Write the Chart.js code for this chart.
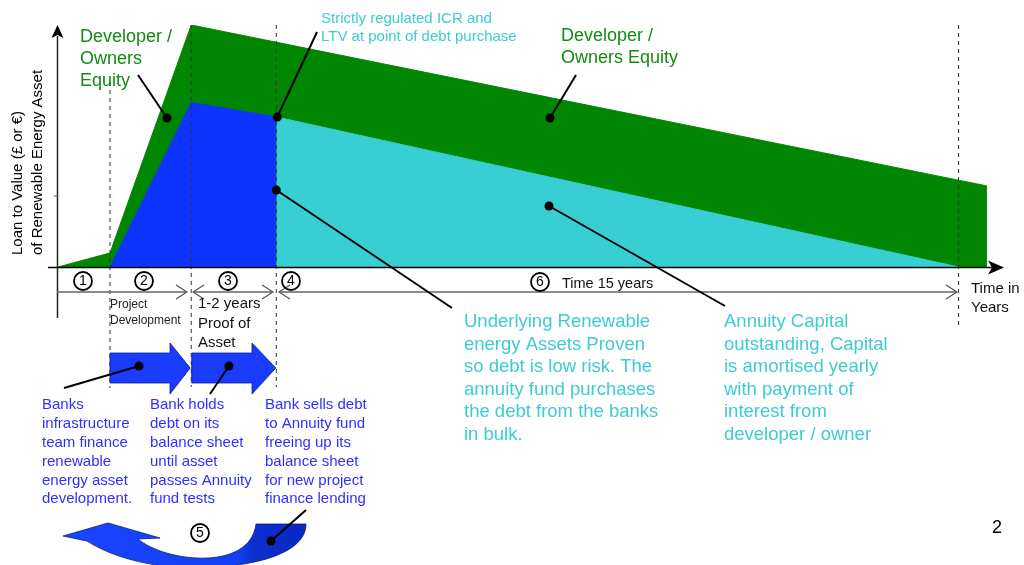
<!DOCTYPE html>
<html><head><meta charset="utf-8">
<script src="https://cdn.jsdelivr.net/npm/chart.js@4.4.1/dist/chart.umd.min.js"></script>
<style>html,body{margin:0;padding:0;background:#fff;overflow:hidden}#wrap{width:1024px;height:565px;position:relative}</style>
</head><body><div id="wrap"><canvas id="c"></canvas></div>
<script>
// ---- data (x: position along the time axis, 0..100; y: loan to value, 0..100) ----
const equityX   = [0, 5.5, 14.1, 98.3];
const equityY   = [0, 5.8, 100, 33.5];
const bankDebtX = [5.5, 14.1, 23.1];
const bankDebtY = [0, 68, 62];
const annuityX  = [23.1, 95.3];
const annuityY  = [62, 0];
const phaseNumbers = ['1', '2', '3', '4', '5', '6'];

const pts = (xs, ys) => xs.map((x, i) => ({x: x, y: ys[i]}));

const GREEN = '#008600', BLUE = '#1034ff', CYAN = '#37cfd4';
const TXT_GREEN = '#138a13', TXT_CYAN = '#3ecbd2', TXT_BLUE = '#2f2fff';
const FONT = '"Liberation Sans", Arial, sans-serif';

function txt(ctx, s, x, capY, size, color, align) {
  ctx.font = size + 'px ' + FONT;
  ctx.fillStyle = color;
  ctx.textAlign = align || 'left';
  ctx.textBaseline = 'alphabetic';
  ctx.fillText(s, x, capY + 0.36 * size);
}
function lines(ctx, arr, x, y0, step, size, color) {
  arr.forEach((s, i) => txt(ctx, s, x, y0 + i * step, size, color));
}
function seg(ctx, x1, y1, x2, y2, w, c, dash) {
  ctx.save();
  ctx.beginPath(); ctx.lineWidth = w; ctx.strokeStyle = c;
  ctx.setLineDash(dash || []);
  ctx.moveTo(x1, y1); ctx.lineTo(x2, y2); ctx.stroke();
  ctx.restore();
}
function dot(ctx, x, y) {
  ctx.beginPath(); ctx.fillStyle = '#000'; ctx.arc(x, y, 4.5, 0, Math.PI * 2); ctx.fill();
}
function pointer(ctx, x1, y1, x2, y2) { seg(ctx, x1, y1, x2, y2, 2, '#000'); dot(ctx, x2, y2); }
function circled(ctx, n, x, y) {
  ctx.beginPath(); ctx.lineWidth = 1.8; ctx.strokeStyle = '#000';
  ctx.arc(x, y, 9, 0, Math.PI * 2); ctx.stroke();
  ctx.font = '14px ' + FONT; ctx.fillStyle = '#000';
  ctx.textAlign = 'center'; ctx.textBaseline = 'middle';
  ctx.fillText(n, x, y + 0.5);
}
function chevron(ctx, x, y, dir) {
  ctx.beginPath(); ctx.lineWidth = 1.2; ctx.strokeStyle = '#555';
  ctx.moveTo(x - dir * 11, y - 7); ctx.lineTo(x, y); ctx.lineTo(x - dir * 11, y + 7); ctx.stroke();
}
function blockArrow(ctx, x0, x1, x2) {
  ctx.beginPath();
  ctx.moveTo(x0, 353); ctx.lineTo(x1, 353); ctx.lineTo(x1, 343); ctx.lineTo(x2, 368);
  ctx.lineTo(x1, 394); ctx.lineTo(x1, 383); ctx.lineTo(x0, 383); ctx.closePath();
  ctx.fillStyle = '#1a3cff'; ctx.fill();
  ctx.lineWidth = 0.8; ctx.strokeStyle = '#0a1a90'; ctx.stroke();
}

const annotations = {
  id: 'annotations',
  afterDatasetsDraw(chart) {
    const ctx = chart.ctx, xs = chart.scales.x, ys = chart.scales.y;
    const X = v => xs.getPixelForValue(v), Y = v => ys.getPixelForValue(v);
    const base = Y(0);
    ctx.save();

    // dashed phase separators
    const dash = [4, 4];
    seg(ctx, X(bankDebtX[0]), 82, X(bankDebtX[0]), 388, 1, '#333', dash);
    seg(ctx, X(bankDebtX[1]), 25, X(bankDebtX[1]), 387, 1, '#333', dash);
    seg(ctx, X(bankDebtX[2]), 25, X(bankDebtX[2]), 387, 1, '#333', dash);
    seg(ctx, X(annuityX[1]), 25, X(annuityX[1]), 326, 1, '#333', dash);

    // axes
    seg(ctx, 57.5, 318, 57.5, 36, 1.5, '#222');
    ctx.beginPath(); ctx.fillStyle = '#000';
    ctx.moveTo(57.5, 25); ctx.lineTo(63.5, 38); ctx.lineTo(57.5, 35); ctx.lineTo(51.5, 38); ctx.closePath(); ctx.fill();
    seg(ctx, 48, base + 0.5, 994, base + 0.5, 1.5, '#000');
    ctx.beginPath();
    ctx.moveTo(1004, base + 0.5); ctx.lineTo(988, base - 6.5); ctx.lineTo(992, base + 0.5); ctx.lineTo(988, base + 7.5); ctx.closePath(); ctx.fill();
    seg(ctx, 54, 196, 58, 196, 1, '#555');

    // time dimension arrows
    const ay = 292;
    seg(ctx, 57, ay, 186, ay, 1.5, '#666'); chevron(ctx, 187, ay, 1);
    seg(ctx, 194, ay, 272, ay, 1.5, '#666'); chevron(ctx, 193, ay, -1); chevron(ctx, 273, ay, 1);
    seg(ctx, 280, ay, 956, ay, 1.5, '#666'); chevron(ctx, 279, ay, -1); chevron(ctx, 957, ay, 1);

    // circled phase numbers
    circled(ctx, phaseNumbers[0], 83, 281);
    circled(ctx, phaseNumbers[1], 144, 281);
    circled(ctx, phaseNumbers[2], 228, 281);
    circled(ctx, phaseNumbers[3], 291, 281);
    circled(ctx, phaseNumbers[5], 540, 282);
    circled(ctx, phaseNumbers[4], 200, 533);

    // y axis title
    ctx.save();
    ctx.translate(17, 255); ctx.rotate(-Math.PI / 2);
    txt(ctx, 'Loan to Value (£ or €)', 0, 0, 15, '#000');
    ctx.restore();
    ctx.save();
    ctx.translate(37, 255); ctx.rotate(-Math.PI / 2);
    txt(ctx, 'of Renewable Energy Asset', 0, 0, 15, '#000');
    ctx.restore();

    // texts
    lines(ctx, ['Developer /', 'Owners', 'Equity'], 80, 36, 22, 18, TXT_GREEN);
    lines(ctx, ['Developer /', 'Owners Equity'], 561, 35, 22, 18, TXT_GREEN);
    lines(ctx, ['Strictly regulated ICR and', 'LTV at point of debt purchase'], 321, 17.5, 18.5, 15, TXT_CYAN);
    lines(ctx, ['Underlying Renewable', 'energy Assets Proven', 'so debt is low risk. The',
                'annuity fund purchases', 'the debt from the banks', 'in bulk.'], 464, 320.5, 22.5, 18.5, TXT_CYAN);
    lines(ctx, ['Annuity Capital', 'outstanding, Capital', 'is amortised yearly',
                'with payment of', 'interest from', 'developer / owner'], 724, 320.5, 22.5, 18.5, TXT_CYAN);
    txt(ctx, 'Time 15 years', 562, 282.5, 14.5, '#111');
    lines(ctx, ['Time in', 'Years'], 971, 288, 19, 15, '#111');
    lines(ctx, ['Project', 'Development'], 110, 304, 16, 12, '#222');
    lines(ctx, ['1-2 years', 'Proof of', 'Asset'], 198, 303, 19.5, 15, '#111');
    lines(ctx, ['Banks', 'infrastructure', 'team finance', 'renewable', 'energy asset', 'development.'], 42, 404, 18.8, 15, TXT_BLUE);
    lines(ctx, ['Bank holds', 'debt on its', 'balance sheet', 'until asset', 'passes Annuity', 'fund tests'], 150, 404, 18.8, 15, TXT_BLUE);
    lines(ctx, ['Bank sells debt', 'to Annuity fund', 'freeing up its', 'balance sheet', 'for new project', 'finance lending'], 265, 404, 18.8, 15, TXT_BLUE);
    txt(ctx, '2', 997, 527, 18, '#000', 'center');

    // block arrows
    blockArrow(ctx, X(bankDebtX[0]), 170, X(bankDebtX[1]) - 1);
    blockArrow(ctx, X(bankDebtX[1]) + 0.5, 252, X(bankDebtX[2]) - 0.5);

    // curved return arrow
    const g = ctx.createLinearGradient(60, 0, 306, 0);
    g.addColorStop(0, '#1846ff'); g.addColorStop(0.72, '#1440f2'); g.addColorStop(0.78, '#0c2fd0'); g.addColorStop(1, '#0a28c0');
    ctx.beginPath();
    ctx.moveTo(63, 536); ctx.lineTo(108, 523); ctx.lineTo(160, 538); ctx.lineTo(138, 539);
    ctx.bezierCurveTo(165, 562, 250, 572, 256, 524);
    ctx.lineTo(306, 524);
    ctx.bezierCurveTo(306, 552, 260, 567, 195, 568);
    ctx.bezierCurveTo(150, 568, 110, 556, 87, 541);
    ctx.closePath();
    ctx.fillStyle = g; ctx.fill();
    ctx.lineWidth = 0.8; ctx.strokeStyle = '#0a1a80'; ctx.stroke();

    // pointers
    pointer(ctx, 138, 75, 167, 118);
    pointer(ctx, 317, 32, X(bankDebtX[2]) + 1, Y(bankDebtY[2]));
    pointer(ctx, 576, 75, 550, 118);
    pointer(ctx, 452, 308, X(annuityX[0]), 190);
    pointer(ctx, 725, 306, 549, 206);
    pointer(ctx, 64, 388, 139, 366);
    pointer(ctx, 210, 394, 229, 366);
    pointer(ctx, 306, 510, 271, 541);

    ctx.restore();
  }
};

new Chart(document.getElementById('c'), {
  type: 'line',
  data: {
    datasets: [
      {label: 'Annuity capital', data: pts(annuityX, annuityY), backgroundColor: CYAN, borderColor: CYAN, borderWidth: 1, fill: 'origin', order: 1},
      {label: 'Bank debt', data: pts(bankDebtX, bankDebtY), backgroundColor: BLUE, borderColor: BLUE, borderWidth: 1, fill: 'origin', order: 2},
      {label: 'Developer / Owners Equity', data: pts(equityX, equityY), backgroundColor: GREEN, borderColor: GREEN, borderWidth: 1, fill: 'origin', order: 3}
    ]
  },
  options: {
    responsive: true, maintainAspectRatio: false, animation: false,
    layout: {padding: {left: 58, right: 21, top: 25, bottom: 298}},
    elements: {point: {radius: 0, hoverRadius: 0}, line: {tension: 0}},
    scales: {
      x: {type: 'linear', min: 0, max: 100, display: false},
      y: {min: 0, max: 100, display: false}
    },
    plugins: {legend: {display: false}, tooltip: {enabled: false}}
  },
  plugins: [annotations]
});
</script>
</body></html>
